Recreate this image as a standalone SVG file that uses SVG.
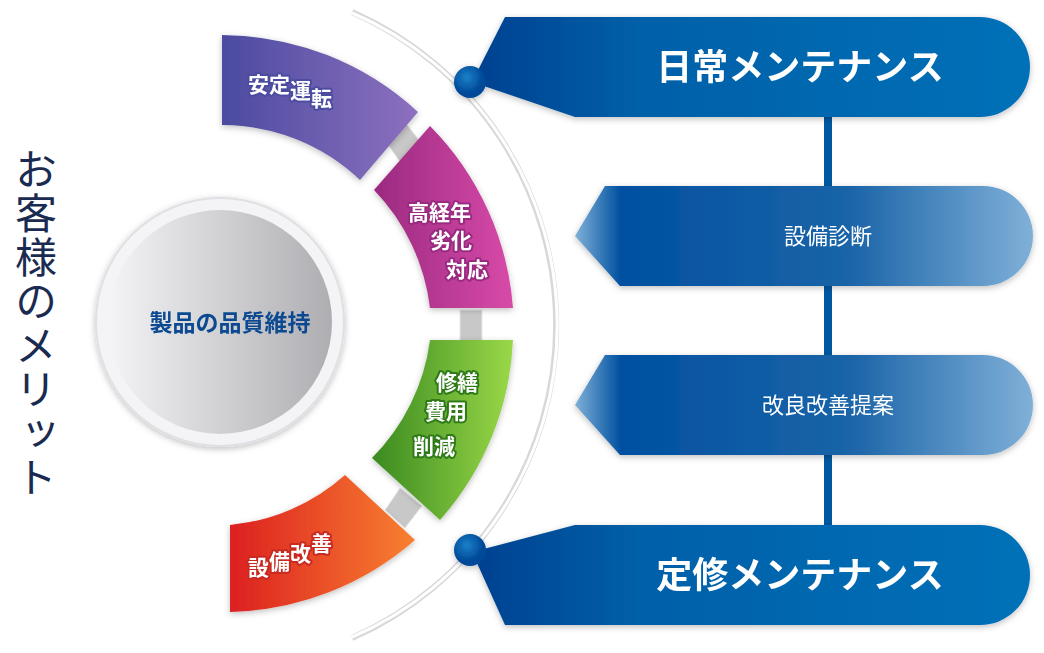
<svg xmlns="http://www.w3.org/2000/svg" width="1044" height="653" viewBox="0 0 1044 653">
<style>
.seg{font-family:"Noto Sans CJK JP",sans-serif;font-weight:700;font-size:21px;fill:#fff;stroke-width:4px;paint-order:stroke;stroke-linejoin:round}
.bt{font-family:"Noto Sans CJK JP",sans-serif;fill:#fff;text-anchor:middle}
</style>
<defs>
<linearGradient id="gp" x1="0" x2="1"><stop offset="0" stop-color="#4b4ba0"/><stop offset="1" stop-color="#8d70bf"/></linearGradient>
<linearGradient id="gm" x1="0" x2="1"><stop offset="0" stop-color="#9a2a80"/><stop offset="1" stop-color="#d84aa8"/></linearGradient>
<linearGradient id="gg" x1="0" x2="1"><stop offset="0" stop-color="#3a8a20"/><stop offset="1" stop-color="#9ad848"/></linearGradient>
<linearGradient id="go" x1="0" x2="1"><stop offset="0" stop-color="#dc2020"/><stop offset="1" stop-color="#f88030"/></linearGradient>
<linearGradient id="gc" x1="0" x2="1"><stop offset="0" stop-color="#f4f4f6"/><stop offset="1" stop-color="#aeaeb2"/></linearGradient>
<linearGradient id="gb" x1="0" x2="1"><stop offset="0" stop-color="#004090"/><stop offset="0.3" stop-color="#0060a8"/><stop offset="1" stop-color="#0070b8"/></linearGradient>
<linearGradient id="gl" x1="0" x2="1"><stop offset="0" stop-color="#80b0d8"/><stop offset="0.1" stop-color="#0050a0"/><stop offset="0.6" stop-color="#1a64a8"/><stop offset="1" stop-color="#80b0d8"/></linearGradient>
<radialGradient id="gd" cx="0.4" cy="0.35"><stop offset="0" stop-color="#1a80c8"/><stop offset="1" stop-color="#004a98"/></radialGradient>
<filter id="sh" x="-10%" y="-10%" width="120%" height="130%"><feDropShadow dx="0" dy="2" stdDeviation="3" flood-color="#000" flood-opacity="0.25"/></filter>
</defs>
<rect width="1044" height="653" fill="#fff"/>
<text x="36" y="148" font-family="Noto Sans CJK JP,sans-serif" font-size="42" fill="#1a2a50" writing-mode="tb" letter-spacing="2">お客様のメリット</text>
<g id="arc">
<path d="M352 12 A342 342 0 0 1 352 638" fill="none" stroke="#d8d8d8" stroke-width="6"/>
<path d="M350 12 A340 340 0 0 1 350 638" fill="none" stroke="#fff" stroke-width="3"/>
</g>
<g id="connectors">
<line x1="828" y1="110" x2="828" y2="530" stroke="#0058a0" stroke-width="8"/>
</g>
<g id="center" filter="url(#sh)">
<circle cx="220" cy="322" r="124" fill="#f4f4f6" stroke="#e0e0e4" stroke-width="2"/>
<circle cx="220" cy="322" r="112" fill="url(#gc)"/>
<text x="230" y="331" font-family="Noto Sans CJK JP,sans-serif" font-weight="700" font-size="23" fill="#0a4a90" text-anchor="middle">製品の品質維持</text>
</g>
<g id="connectors-gray" fill="#c8c8c8" stroke="#e8e8e8">
<polygon points="385,140 405,122 422,144 400,162"/>
<rect x="460" y="310" width="22" height="32"/>
<polygon points="385,510 405,528 422,506 400,488"/>
</g>
<g id="seg1" filter="url(#sh)">
<path d="M222 35 A290 290 0 0 1 418 112 L360 180 A200 200 0 0 0 222 125 Z" fill="url(#gp)"/>
<text class="seg" stroke="#4b4ba0" x="248" y="92">安定<tspan dy="6">運</tspan><tspan dy="8">転</tspan></text>
</g>
<g id="seg2" filter="url(#sh)">
<path d="M430 126 A290 290 0 0 1 513 308 L430 308 A205 205 0 0 0 374 190 Z" fill="url(#gm)"/>
<text class="seg" stroke="#9a2a80"><tspan x="408" y="220">高経年</tspan><tspan x="430" y="248">劣化</tspan><tspan x="446" y="277">対応</tspan></text>
</g>
<g id="seg3" filter="url(#sh)">
<path d="M513 340 A290 290 0 0 1 440 520 L372 458 A205 205 0 0 0 430 340 Z" fill="url(#gg)"/>
<text class="seg" stroke="#2f7a18"><tspan x="436" y="390">修繕</tspan><tspan x="425" y="419">費用</tspan><tspan x="413" y="454">削減</tspan></text>
</g>
<g id="seg4" filter="url(#sh)">
<path d="M415 540 A290 290 0 0 1 230 612 L230 525 A200 200 0 0 0 345 475 Z" fill="url(#go)"/>
<text class="seg" stroke="#c82a20" x="248" y="575">設<tspan dy="-6">備</tspan><tspan dy="-8">改</tspan><tspan dy="-10">善</tspan></text>
</g>
<g id="b1" filter="url(#sh)">
<path d="M505 17 L980 17 A50 50 0 0 1 980 117 L575 117 L472 82 Z" fill="url(#gb)"/>
<circle cx="470" cy="82" r="16" fill="url(#gd)"/>
<text class="bt" x="800" y="80" font-size="36" font-weight="700">日常メンテナンス</text>
</g>
<g id="b2" filter="url(#sh)">
<path d="M605 186 L983 186 A50 50 0 0 1 983 286 L620 286 L575 236 Z" fill="url(#gl)"/>
<text class="bt" x="828" y="244" font-size="22">設備診断</text>
</g>
<g id="b3" filter="url(#sh)">
<path d="M605 355 L983 355 A50 50 0 0 1 983 455 L620 455 L575 405 Z" fill="url(#gl)"/>
<text class="bt" x="828" y="413" font-size="22">改良改善提案</text>
</g>
<g id="b4" filter="url(#sh)">
<path d="M575 525 L980 525 A50 50 0 0 1 980 625 L505 625 L472 552 Z" fill="url(#gb)"/>
<circle cx="470" cy="550" r="16" fill="url(#gd)"/>
<text class="bt" x="800" y="588" font-size="36" font-weight="700">定修メンテナンス</text>
</g>
</svg>
